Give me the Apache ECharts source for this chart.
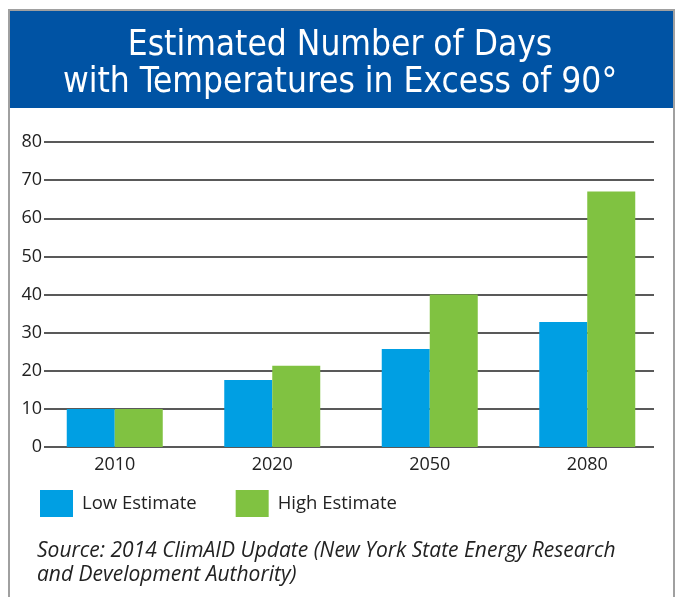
<!DOCTYPE html>
<html>
<head>
<meta charset="utf-8">
<script src="https://cdn.jsdelivr.net/npm/echarts@6/dist/echarts.min.js"></script>
<style>
  html, body { margin: 0; padding: 0; background: #fff; }
  #chart { width: 680px; height: 597px; }
</style>
</head>
<body>
<div id="chart"></div>
<script>
  // data
  const years = ['2010', '2020', '2050', '2080'];
  const lowEstimate = [10, 17.6, 25.7, 32.8];
  const highEstimate = [10, 21.3, 40, 67];
  const yTicks = { min: 0, max: 80, interval: 10 };

  const chart = echarts.init(document.getElementById('chart'));

  const option = {
    animation: false,
    textStyle: { fontFamily: 'Open Sans' },
    title: {
      text: 'Estimated Number of Days\nwith Temperatures in Excess of 90°',
      left: 'center',
      top: 22,
      textStyle: {
        color: '#fff',
        fontFamily: 'DejaVu Sans Condensed',
        fontWeight: 'normal',
        fontSize: 35,
        lineHeight: 37
      }
    },
    graphic: [
      {
        type: 'rect',
        z: -10,
        shape: { x: 9, y: 10, width: 665, height: 600 },
        style: { fill: '#fff', stroke: '#a0a0a0', lineWidth: 2 }
      },
      {
        type: 'rect',
        z: -5,
        shape: { x: 10, y: 11, width: 663, height: 97 },
        style: { fill: '#0053a4' }
      },
      {
        type: 'text',
        left: 37,
        top: 539,
        style: {
          text: 'Source: 2014 ClimAID Update (New York State Energy Research\nand Development Authority)',
          font: 'italic 21px "Open Sans"',
          lineHeight: 24,
          fill: '#222'
        }
      }
    ],
    legend: {
      left: 35,
      top: 485,
      itemWidth: 33,
      itemHeight: 27,
      itemGap: 39,
      icon: 'rect',
      textStyle: { fontSize: 18.5, color: '#222', padding: [0, 0, 0, 4] },
      data: ['Low Estimate', 'High Estimate']
    },
    grid: [
      { left: 44, right: 26, top: 142, bottom: 150 },
      { left: 36, right: 14, top: 142, bottom: 150 }
    ],
    xAxis: [
      { gridIndex: 0, type: 'category', data: years, show: false },
      {
        gridIndex: 1,
        type: 'category',
        data: years,
        axisLine: { show: false },
        axisTick: { show: false },
        axisLabel: { fontSize: 18, color: '#222', margin: 9 }
      }
    ],
    yAxis: [
      {
        gridIndex: 0,
        type: 'value',
        min: yTicks.min,
        max: yTicks.max,
        interval: yTicks.interval,
        axisLine: { show: false },
        axisTick: { show: false },
        axisLabel: { fontSize: 18, color: '#222', margin: 2 },
        splitLine: { lineStyle: { color: '#222', width: 1.5 } }
      },
      {
        gridIndex: 1,
        type: 'value',
        min: yTicks.min,
        max: yTicks.max,
        interval: yTicks.interval,
        show: false
      }
    ],
    series: [
      {
        name: 'Low Estimate',
        type: 'bar',
        xAxisIndex: 1,
        yAxisIndex: 1,
        barWidth: 48,
        barGap: '0%',
        itemStyle: { color: '#009fe3' },
        data: lowEstimate
      },
      {
        name: 'High Estimate',
        type: 'bar',
        xAxisIndex: 1,
        yAxisIndex: 1,
        barWidth: 48,
        barGap: '0%',
        itemStyle: { color: '#80c241' },
        data: highEstimate
      }
    ]
  };

  chart.setOption(option);
</script>
</body>
</html>
